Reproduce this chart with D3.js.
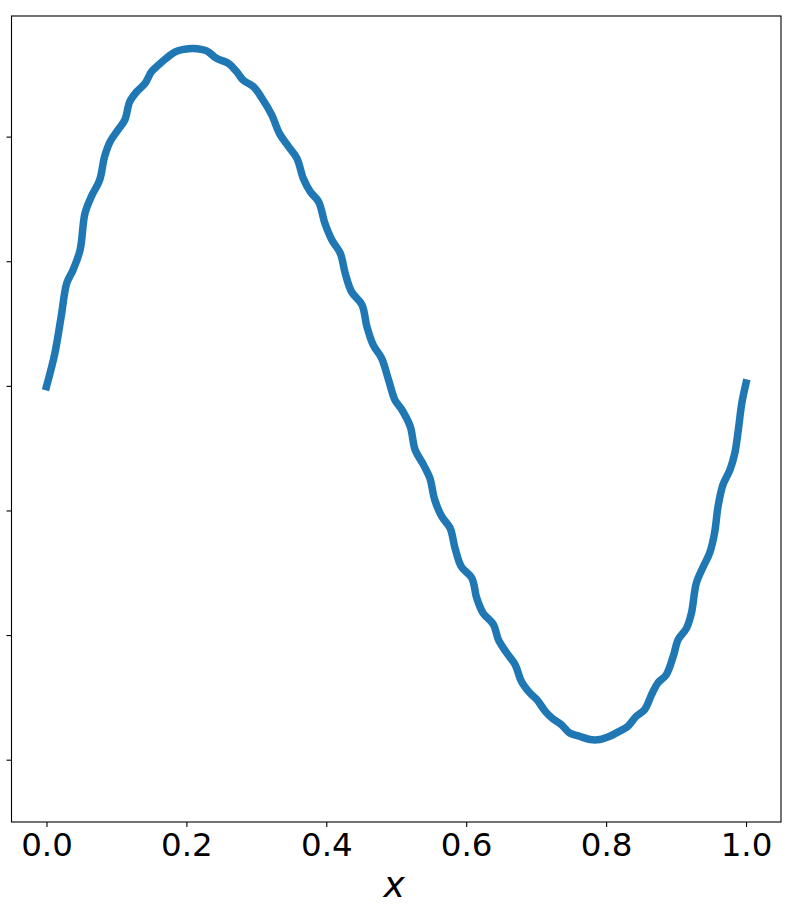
<!DOCTYPE html>
<html>
<head>
<meta charset="utf-8">
<script src="https://cdn.jsdelivr.net/npm/d3@7"></script>
<style>
  body { margin: 0; background: #fff; }
  svg { display: block; }
</style>
</head>
<body>
<div id="chart"></div>
<script>
// values
var xs = [0.000, 0.012, 0.021, 0.029, 0.038, 0.048, 0.055, 0.064, 0.076, 0.083,
  0.091, 0.102, 0.112, 0.119, 0.129, 0.141, 0.150, 0.160, 0.171, 0.184,
  0.196, 0.210, 0.229, 0.243, 0.260, 0.272, 0.281, 0.296, 0.308, 0.322,
  0.333, 0.346, 0.358, 0.367, 0.377, 0.389, 0.398, 0.408, 0.420, 0.427,
  0.436, 0.451, 0.458, 0.467, 0.479, 0.489, 0.498, 0.508, 0.520, 0.527,
  0.539, 0.548, 0.555, 0.565, 0.577, 0.584, 0.593, 0.608, 0.615, 0.624,
  0.639, 0.646, 0.658, 0.670, 0.679, 0.691, 0.701, 0.713, 0.724, 0.736,
  0.748, 0.762, 0.777, 0.791, 0.805, 0.819, 0.831, 0.843, 0.855, 0.865,
  0.874, 0.886, 0.896, 0.903, 0.915, 0.922, 0.929, 0.939, 0.948, 0.955,
  0.960, 0.967, 0.977, 0.984, 0.989, 0.994, 1.000];
var ys = [-0.003, 0.131, 0.278, 0.412, 0.465, 0.545, 0.692, 0.759, 0.826, 0.919,
  0.980, 1.026, 1.067, 1.140, 1.180, 1.214, 1.260, 1.287, 1.314, 1.340,
  1.350, 1.354, 1.344, 1.314, 1.294, 1.260, 1.227, 1.200, 1.154, 1.087,
  1.013, 0.960, 0.913, 0.833, 0.779, 0.739, 0.652, 0.585, 0.532, 0.452,
  0.378, 0.325, 0.238, 0.164, 0.111, 0.024, -0.056, -0.096, -0.163, -0.257,
  -0.317, -0.370, -0.457, -0.524, -0.571, -0.651, -0.725, -0.771, -0.851, -0.911,
  -0.958, -1.018, -1.072, -1.119, -1.186, -1.232, -1.259, -1.306, -1.336, -1.359,
  -1.393, -1.406, -1.419, -1.419, -1.406, -1.386, -1.366, -1.326, -1.299, -1.239,
  -1.192, -1.159, -1.085, -1.018, -0.972, -0.911, -0.791, -0.725, -0.671, -0.591,
  -0.484, -0.397, -0.337, -0.270, -0.176, -0.069, 0.011];
var xTicks = [0, 0.2, 0.4, 0.6, 0.8, 1.0];
var yTicks = [1.0, 0.5, 0, -0.5, -1.0, -1.5];

var W = 799, H = 919;
var plotL = 11.5, plotR = 781, plotT = 16, plotB = 822;

var svg = d3.select('#chart').append('svg')
  .attr('width', W).attr('height', H);

var x = d3.scaleLinear().domain([-0.05, 1.05]).range([plotL, plotR]);
var y = d3.scaleLinear().domain([-1.75, 1.484]).range([plotB, plotT]);

var pts = xs.map((d, i) => [d, ys[i]]);

var line = d3.line()
  .x(d => x(d[0]))
  .y(d => y(d[1]))
  .curve(d3.curveCatmullRom.alpha(0.5));

svg.append('path')
  .datum(pts)
  .attr('d', line)
  .attr('fill', 'none')
  .attr('stroke', '#1f77b4')
  .attr('stroke-width', 7.5)
  .attr('stroke-linejoin', 'round')
  .attr('stroke-linecap', 'square');

// frame
svg.append('rect')
  .attr('x', plotL).attr('y', plotT)
  .attr('width', plotR - plotL).attr('height', plotB - plotT)
  .attr('fill', 'none').attr('stroke', '#000').attr('stroke-width', 1.1);

var xAxis = d3.axisBottom(x).tickValues(xTicks)
  .tickFormat(d3.format('.1f')).tickSizeOuter(0).tickSize(5).tickPadding(6);
var gx = svg.append('g').attr('transform', 'translate(0,' + plotB + ')').call(xAxis);
gx.select('.domain').remove();
gx.attr('font-family', 'DejaVu Sans').attr('font-size', 32.5);
gx.selectAll('text').attr('fill', '#000');
gx.selectAll('line').attr('stroke', '#000').attr('stroke-width', 1.1);

var yAxis = d3.axisLeft(y).tickValues(yTicks).tickFormat('').tickSizeOuter(0).tickSize(5);
var gy = svg.append('g').attr('transform', 'translate(' + plotL + ',0)').call(yAxis);
gy.select('.domain').remove();
gy.selectAll('line').attr('stroke', '#000').attr('stroke-width', 1.1);

svg.append('text')
  .attr('x', (plotL + plotR) / 2 - 2)
  .attr('y', 896.5)
  .attr('text-anchor', 'middle')
  .attr('font-family', 'DejaVu Sans')
  .attr('font-style', 'italic')
  .attr('font-size', 36)
  .text('x');
</script>
</body>
</html>
